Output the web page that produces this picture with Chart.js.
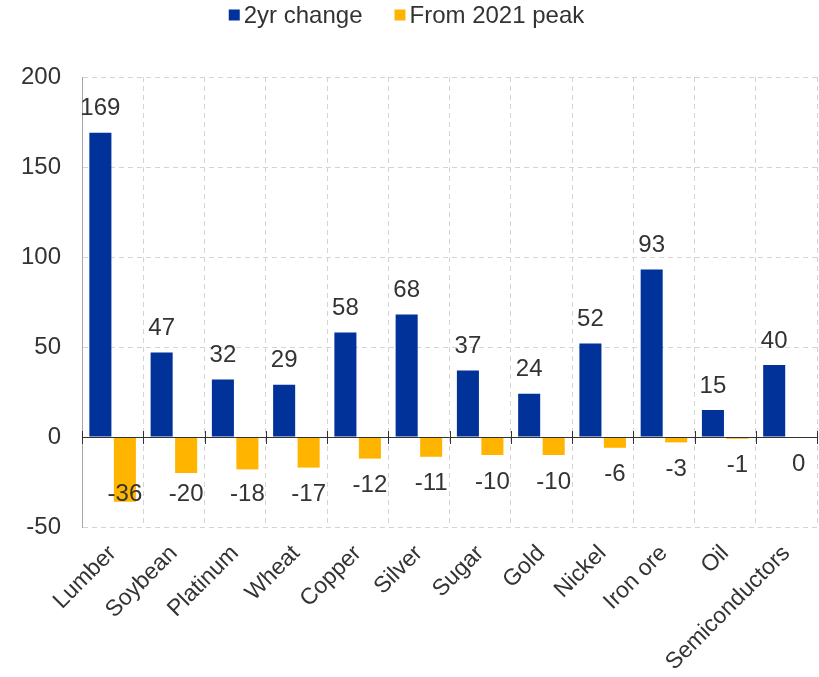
<!DOCTYPE html>
<html>
<head>
<meta charset="utf-8">
<script src="https://cdn.jsdelivr.net/npm/chart.js@4.4.1/dist/chart.umd.min.js"></script>
<style>
  html, body { margin: 0; padding: 0; background: #fff; }
  #wrap { width: 819px; height: 677px; }
</style>
</head>
<body>
<div id="wrap"><canvas id="chart" width="819" height="677"></canvas></div>
<script>
const categories = ['Lumber', 'Soybean', 'Platinum', 'Wheat', 'Copper', 'Silver', 'Sugar', 'Gold', 'Nickel', 'Iron ore', 'Oil', 'Semiconductors'];
const twoYearChange = [169, 47, 32, 29, 58, 68, 37, 24, 52, 93, 15, 40];
const fromPeak = [-36, -20, -18, -17, -12, -11, -10, -10, -6, -3, -1, 0];
const seriesNames = ['2yr change', 'From 2021 peak'];
const seriesColors = ['#003299', '#ffb400'];
const yTicks = [-50, 0, 50, 100, 150, 200];

const FONT = '"Liberation Sans", Arial, sans-serif';
const TEXT = '#333333';

// legend drawn by hand so it can sit higher than the built-in one allows
const topLegend = {
    id: 'topLegend',
    afterDraw(chart) {
        const ctx = chart.ctx;
        const box = 11, gap = 4, itemGap = 32;
        ctx.save();
        ctx.font = '24px ' + FONT;
        ctx.textBaseline = 'middle';
        const widths = chart.data.datasets.map(d => box + gap + ctx.measureText(d.label).width);
        const total = widths.reduce((a, b) => a + b, 0) + itemGap * (widths.length - 1);
        let x = (chart.width - total) / 2 - 3;
        const y = 15;
        chart.data.datasets.forEach((d, i) => {
            ctx.fillStyle = d.backgroundColor;
            ctx.fillRect(x, y - box / 2, box, box);
            ctx.fillStyle = TEXT;
            ctx.fillText(d.label, x + box + gap, y + 1);
            x += widths[i] + itemGap;
        });
        ctx.restore();
    }
};

// zero line with small tick marks + value labels
const zeroAndLabels = {
    id: 'zeroAndLabels',
    afterDatasetsDraw(chart) {
        const ctx = chart.ctx;
        const area = chart.chartArea;
        const y0 = chart.scales.y.getPixelForValue(0);
        const n = chart.data.labels.length;
        const step = (area.right - area.left) / n;

        ctx.save();
        ctx.strokeStyle = '#333333';
        ctx.lineWidth = 1;
        ctx.beginPath();
        ctx.moveTo(area.left, y0 + 0.5);
        ctx.lineTo(area.right, y0 + 0.5);
        for (let i = 0; i <= n; i++) {
            const x = Math.round(area.left + i * step) + 0.5;
            ctx.moveTo(x, y0 - 6);
            ctx.lineTo(x, y0 + 7);
        }
        ctx.stroke();

        ctx.font = '24px ' + FONT;
        ctx.fillStyle = TEXT;
        ctx.textAlign = 'center';
        ctx.textBaseline = 'middle';
        chart.data.datasets.forEach((ds, di) => {
            const meta = chart.getDatasetMeta(di);
            meta.data.forEach((bar, i) => {
                const v = ds.data[i];
                let ty;
                if (v > 0) {
                    ty = bar.y - 24;
                } else {
                    ty = Math.min(bar.y + 27, y0 + 57);
                }
                ctx.fillText(String(v), bar.x, ty);
            });
        });
        ctx.restore();
    }
};

new Chart(document.getElementById('chart'), {
    type: 'bar',
    data: {
        labels: categories,
        datasets: [
            { label: seriesNames[0], data: twoYearChange, backgroundColor: seriesColors[0] },
            { label: seriesNames[1], data: fromPeak, backgroundColor: seriesColors[1] }
        ]
    },
    options: {
        responsive: false,
        animation: false,
        devicePixelRatio: 1,
        layout: { padding: { top: 77, right: 1, left: 0, bottom: 0 } },
        plugins: {
            legend: { display: false },
            tooltip: { enabled: false }
        },
        scales: {
            x: {
                grid: { color: '#d4d4d4', drawTicks: false, offset: true },
                border: { display: false, dash: [5, 4] },
                ticks: {
                    color: TEXT,
                    font: { family: FONT, size: 23 },
                    maxRotation: 45,
                    minRotation: 45,
                    padding: 13,
                    autoSkip: false
                },
                afterFit(scale) { scale.height = 150; }
            },
            y: {
                min: -50,
                max: 200,
                afterBuildTicks(scale) { scale.ticks = yTicks.map(v => ({ value: v })); },
                grid: { color: '#d4d4d4', drawTicks: false },
                border: { display: true, color: '#a6a6a6', dash: [5, 4] },
                ticks: {
                    color: TEXT,
                    font: { family: FONT, size: 24 },
                    padding: 21
                },
                afterFit(scale) { scale.width = 82; }
            }
        }
    },
    plugins: [topLegend, zeroAndLabels]
});
</script>
</body>
</html>
